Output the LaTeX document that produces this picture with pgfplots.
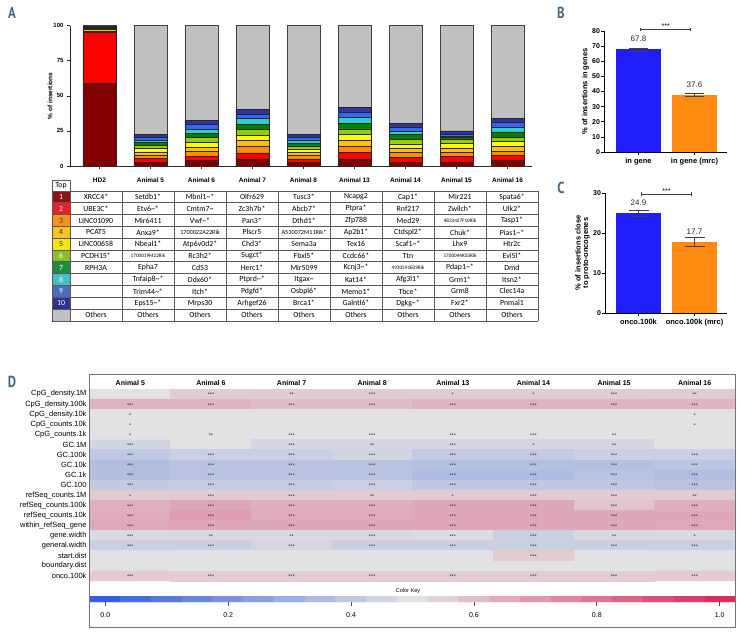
\documentclass[border=0pt]{standalone}
\usepackage{pgfplots}
\pgfplotsset{compat=1.18}
\usepackage{pgfplotstable}
\usepackage{fontspec}
\setmainfont{Liberation Sans}
\newfontfamily\tabfont{Carlito}
\newfontfamily\letterfont{PT Sans}
\newcommand\tld{\textasciitilde}
\newcommand\fs[1]{\fontsize{#1}{#1}\selectfont}
\newcommand\rik[1]{{\fs{5.2}#1}}
\newcommand\rikb[1]{{\fs{6.2}#1}}
\definecolor{c1}{HTML}{800000}
\definecolor{c2}{HTML}{FF0000}
\definecolor{c3}{HTML}{FF8C00}
\definecolor{c4}{HTML}{FFC000}
\definecolor{c5}{HTML}{FFFF00}
\definecolor{c6}{HTML}{99CC00}
\definecolor{c7}{HTML}{008000}
\definecolor{c8}{HTML}{33CCCC}
\definecolor{c9}{HTML}{3366FF}
\definecolor{c10}{HTML}{333399}
\definecolor{oth}{HTML}{C0C0C0}
\definecolor{t1}{HTML}{8C1419}
\definecolor{t2}{HTML}{E62328}
\definecolor{t3}{HTML}{F5911E}
\definecolor{t4}{HTML}{FAC31E}
\definecolor{t5}{HTML}{F0E614}
\definecolor{t6}{HTML}{8CBE28}
\definecolor{t7}{HTML}{1E8C3C}
\definecolor{t8}{HTML}{46BEC8}
\definecolor{t9}{HTML}{466EBE}
\definecolor{t10}{HTML}{2D328C}
\definecolor{letter}{HTML}{48687C}
\definecolor{pblue}{HTML}{1E1EFA}
\definecolor{porange}{HTML}{FF8A10}
\pgfplotsset{colormap={heat}{rgb255=(55,95,220) rgb255=(226,226,226) rgb255=(215,45,95)}}

\pgfplotstableread{
x c1 c2 c3 c4 c5 c6 c7 c8 c9 c10 oth
0 59 36 1.2 1.0 0.8 0.7 0.6 0 0 0 0.7
1 2.8 2.5 2.4 2.3 2.3 2.2 2.1 2.0 2.0 1.9 77.5
2 3.8 3.1 3.6 3.0 3.2 3.5 2.9 3.1 3.3 3.1 67.4
3 5.0 4.3 5.0 4.0 3.7 4.0 3.8 4.0 3.2 3.2 59.8
4 2.7 2.4 2.4 2.4 2.2 2.2 2.2 2.1 2.0 1.8 77.6
5 5.0 4.5 4.5 4.6 3.8 4.0 4.1 4.5 3.5 3.4 58.1
6 2.9 3.5 3.1 3.3 2.9 3.1 3.6 2.6 2.6 2.6 69.8
7 2.9 3.8 3.1 3.2 3.2 2.8 1.5 1.0 1.0 2.5 75.0
8 3.8 3.6 3.1 3.5 3.6 2.6 4.1 3.3 3.4 2.8 66.2
}\dataA

\begin{document}
\begin{tikzpicture}[x=1pt,y=1pt]
\path[use as bounding box] (0,0) rectangle (744,-636);

% ---------------- Panel letters
\foreach \L/\px/\py in {A/12/-13, B/561/-13, C/561/-188, D/12/-382}
  \node[font=\letterfont\bfseries\fs{16}, text=letter, xscale=0.8] at (\px,\py) {\L};

% ---------------- Panel A
\begin{axis}[
  at={(70pt,-166pt)}, anchor=south west,
  scale only axis, width=462pt, height=140.3pt,
  ybar stacked, bar width=33pt,
  xmin=-0.578, xmax=8.48, ymin=0, ymax=100,
  axis x line*=bottom, axis y line*=left,
  axis line style={black!85, line width=0.8pt},
  ytick={0,25,50,75,100},
  xtick={0,...,8},
  xticklabels={HD2,Animal 5,Animal 6,Animal 7,Animal 8,Animal 13,Animal 14,Animal 15,Animal 16},
  tick align=outside, major tick length=3pt,
  tick style={black!85, line width=0.6pt},
  yticklabel style={font=\bfseries\fs{6}},
  xticklabel style={font=\bfseries\fs{6.5}, yshift=-5pt},
  /pgf/number format/assume math mode=true,
  ylabel={\% of insertions},
  ylabel style={font=\bfseries\fs{6.5}, at={(axis description cs:-0.043,0.5)}, anchor=center},
  clip=false,
]
\addplot[fill=c1, draw=black!85, line width=0.5pt] table[x=x,y=c1]{\dataA};
\addplot[fill=c2, draw=black!85, line width=0.5pt] table[x=x,y=c2]{\dataA};
\addplot[fill=c3, draw=black!85, line width=0.5pt] table[x=x,y=c3]{\dataA};
\addplot[fill=c4, draw=black!85, line width=0.5pt] table[x=x,y=c4]{\dataA};
\addplot[fill=c5, draw=black!85, line width=0.5pt] table[x=x,y=c5]{\dataA};
\addplot[fill=c6, draw=black!85, line width=0.5pt] table[x=x,y=c6]{\dataA};
\addplot[fill=c7, draw=black!85, line width=0.5pt] table[x=x,y=c7]{\dataA};
\addplot[fill=c8, draw=black!85, line width=0.5pt] table[x=x,y=c8]{\dataA};
\addplot[fill=c9, draw=black!85, line width=0.5pt] table[x=x,y=c9]{\dataA};
\addplot[fill=c10, draw=black!85, line width=0.5pt] table[x=x,y=c10]{\dataA};
\addplot[fill=oth, draw=black!75, line width=0.7pt] table[x=x,y=oth]{\dataA};
\end{axis}

% ---------------- Table of panel A
\begin{scope}[every node/.style={font=\tabfont\fs{7.8}, inner sep=0pt}]
\foreach \c [count=\i] in {t1,t2,t3,t4,t5,t6,t7,t8,t9,t10,oth}
  \fill[\c] (52,{-191-11.8*(\i-1)}) rectangle (70,{-191-11.8*\i});
\foreach \i/\tc in {1/white,2/white,3/black!80,4/black!80,5/black!80,6/white,7/white,8/white,9/white,10/white}
  \node[text=\tc] at (61,{-191-11.8*(\i-0.5)}) {\i};
\draw[black!65, line width=0.6pt] (52,-191) -- (52,-180) -- (70,-180) -- (70,-191);
\node at (61,-185.5) {Top};
\foreach \k in {0,...,11}
  \draw[black!65, line width=0.6pt] (52,{-191-11.8*\k}) -- (538,{-191-11.8*\k});
\foreach \xx in {52,70,122,174,226,278,330,382,434,486,538}
  \draw[black!65, line width=0.6pt] (\xx,-191) -- (\xx,-320.8);
\foreach \t [count=\j from 0] in {XRCC4*,Setdb1*,Mbnl1\tld*,Olfr629,Tusc3*,Ncapg2,Cap1*,Mir221,Spata6*}
  \node at ({96+52*\j},-196.9) {\t};
\foreach \t [count=\j from 0] in {UBE3C*,Etv6\tld*,Cmtm7\tld,Zc3h7b*,Abcb7*,Ptpra*,Rnf217,Zwilch*,Ulk2*}
  \node at ({96+52*\j},-208.7) {\t};
\foreach \t [count=\j from 0] in {LINC01090,Mir6411,Vwf\tld*,Pan3*,Dthd1*,Zfp788,Med29,\rik{4833427F10Rik},Tasp1*}
  \node at ({96+52*\j},-220.5) {\t};
\foreach \t [count=\j from 0] in {PCAT5,Anxa9*,\rikb{1700022A22Rik},Plscr5,\rikb{A530072M11Rik*},Ap2b1*,Ctdspl2*,Chuk*,Pias1\tld*}
  \node at ({96+52*\j},-232.3) {\t};
\foreach \t [count=\j from 0] in {LINC00658,Nbeal1*,Atp6v0d2*,Chd3*,Sema3a,Tex16,Scaf1\tld*,Lhx9,Htr2c}
  \node at ({96+52*\j},-244.1) {\t};
\foreach \t [count=\j from 0] in {PCDH15*,\rik{1700019M22Rik},Rc3h2*,Sugct*,Fbxl5*,Ccdc66*,Ttn,\rik{1700044K03Rik},Evi5l*}
  \node at ({96+52*\j},-255.9) {\t};
\foreach \t [count=\j from 0] in {RPH3A,Epha7,Cd53,Herc1*,Mir5099,Kcnj3\tld*,\rik{4930591E09Rik},Pdap1\tld*,Dmd}
  \node at ({96+52*\j},-267.7) {\t};
\foreach \t [count=\j from 1] in {Tnfaip8\tld*,Ddx60*,Ptprd\tld*,Itgax\tld,Kat14*,Afg3l1*,Grm1*,Itsn2*}
  \node at ({96+52*\j},-279.5) {\t};
\foreach \t [count=\j from 1] in {Trim44\tld*,Itch*,Pdgfd*,Osbpl6*,Memo1*,Tbce*,Grm8,Clec14a}
  \node at ({96+52*\j},-291.3) {\t};
\foreach \t [count=\j from 1] in {Eps15\tld*,Mrps30,Arhgef26,Brca1*,Galntl6*,Dgkg\tld*,Fxr2*,Pnmal1}
  \node at ({96+52*\j},-303.1) {\t};
\foreach \j in {0,...,8}
  \node at ({96+52*\j},-314.9) {Others};
\end{scope}

% ---------------- Panel B
\begin{axis}[
  at={(604pt,-152pt)}, anchor=south west, scale only axis, width=123pt, height=121pt,
  ybar, bar width=45pt, bar shift=0pt,
  xmin=-0.616, xmax=1.58, ymin=0, ymax=80, ytick={0,10,...,80},
  xtick={0,1}, xticklabels={in gene,in gene (mrc)},
  axis x line*=bottom, axis y line*=left, axis line style={black, line width=0.8pt},
  tick align=outside, major tick length=3pt, tick style={black, line width=0.7pt},
  yticklabel style={font=\bfseries\fs{7}, xshift=2.5pt},
  xticklabel style={font=\bfseries\fs{7.5}},
  /pgf/number format/assume math mode=true,
  ylabel={\% of insertions in genes},
  ylabel style={font=\bfseries\fs{7.5}, at={(axis description cs:-0.15,0.5)}, anchor=center},
  nodes near coords, nodes near coords style={font=\fs{8}, yshift=4pt, text=black!85},
  clip=false,
  error bars/y dir=both, error bars/y explicit,
  error bars/error bar style={black!75, line width=0.7pt},
  error bars/error mark options={rotate=90, mark size=9.5pt, line width=0.7pt, black!75},
]
\addplot[fill=pblue, draw=none] coordinates {(0,67.8) +- (0,1.0)};
\addplot[fill=porange, draw=none] coordinates {(1,37.6) +- (0,1.0)};
\draw[black!75, line width=0.7pt] (axis cs:0.04,80.9) -- (axis cs:0.93,80.9);
\draw[black!75, line width=0.7pt] ([yshift=-1.7pt]axis cs:0.04,80.9) -- ([yshift=1.7pt]axis cs:0.04,80.9);
\draw[black!75, line width=0.7pt] ([yshift=-1.7pt]axis cs:0.93,80.9) -- ([yshift=1.7pt]axis cs:0.93,80.9);
\node[font=\fs{7}, anchor=base, inner sep=0pt] at ([yshift=1pt]axis cs:0.485,80.9) {***};
\end{axis}

% ---------------- Panel C
\begin{axis}[
  at={(605pt,-313pt)}, anchor=south west, scale only axis, width=122pt, height=120pt,
  ybar, bar width=45pt, bar shift=0pt,
  xmin=-0.598, xmax=1.58, ymin=0, ymax=30, ytick={0,10,20,30},
  xtick={0,1}, xticklabels={onco.100k,onco.100k (mrc)},
  axis x line*=bottom, axis y line*=left, axis line style={black, line width=0.8pt},
  tick align=outside, major tick length=3pt, tick style={black, line width=0.7pt},
  yticklabel style={font=\bfseries\fs{7}, xshift=2.5pt},
  xticklabel style={font=\bfseries\fs{7.5}},
  /pgf/number format/assume math mode=true,
  ylabel={\% of insertions close\\to proto-oncogenes},
  ylabel style={font=\bfseries\fs{7.5}, align=center, at={(axis description cs:-0.185,0.5)}, anchor=center},
  nodes near coords, nodes near coords style={font=\fs{8}, yshift=4pt, text=black!85},
  clip=false,
  error bars/y dir=both, error bars/y explicit,
  error bars/error bar style={black!75, line width=0.7pt},
  error bars/error mark options={rotate=90, mark size=10pt, line width=0.7pt, black!75},
]
\addplot[fill=pblue, draw=none] coordinates {(0,24.9) +- (0,0.8)};
\addplot[fill=porange, draw=none] coordinates {(1,17.7) +- (0,1.15)};
\draw[black!75, line width=0.7pt] (axis cs:0.057,29.75) -- (axis cs:0.95,29.75);
\draw[black!75, line width=0.7pt] ([yshift=-1.7pt]axis cs:0.057,29.75) -- ([yshift=1.7pt]axis cs:0.057,29.75);
\draw[black!75, line width=0.7pt] ([yshift=-1.7pt]axis cs:0.95,29.75) -- ([yshift=1.7pt]axis cs:0.95,29.75);
\node[font=\fs{7}, anchor=base, inner sep=0pt] at ([yshift=1pt]axis cs:0.5,29.75) {***};
\end{axis}

% ---------------- Panel D heatmap
\begin{axis}[
  at={(90pt,-581pt)}, anchor=south west, scale only axis, width=645pt, height=192pt,
  xmin=-0.5, xmax=7.5, ymin=0.5, ymax=19.5, y dir=reverse,
  axis line style={draw=none}, major tick length=0pt,
  xtick={0,...,7}, xticklabel pos=upper,
  xticklabels={Animal 5,Animal 6,Animal 7,Animal 8,Animal 13,Animal 14,Animal 15,Animal 16},
  xticklabel style={font=\bfseries\fs{7}},
  ytick={1,...,19},
  yticklabels={CpG\_density.1M,CpG\_density.100k,CpG\_density.10k,CpG\_counts.10k,CpG\_counts.1k,GC.1M,GC.100k,GC.10k,GC.1k,GC.100,refSeq\_counts.1M,refSeq\_counts.100k,refSeq\_counts.10k,within\_refSeq\_gene,gene.width,general.width,start.dist,boundary.dist,onco.100k},
  yticklabel style={font=\fs{7.5}},
  colormap name=heat, point meta min=0, point meta max=1,
]
\addplot[matrix plot*, mesh/cols=8, point meta=explicit] coordinates {
(0,1)[0.50] (1,1)[0.56] (2,1)[0.56] (3,1)[0.56] (4,1)[0.56] (5,1)[0.56] (6,1)[0.56] (7,1)[0.56]
(0,2)[0.63] (1,2)[0.63] (2,2)[0.60] (3,2)[0.60] (4,2)[0.63] (5,2)[0.63] (6,2)[0.63] (7,2)[0.63]
(0,3)[0.50] (1,3)[0.50] (2,3)[0.50] (3,3)[0.50] (4,3)[0.50] (5,3)[0.50] (6,3)[0.50] (7,3)[0.50]
(0,4)[0.50] (1,4)[0.50] (2,4)[0.50] (3,4)[0.50] (4,4)[0.50] (5,4)[0.50] (6,4)[0.50] (7,4)[0.50]
(0,5)[0.50] (1,5)[0.50] (2,5)[0.50] (3,5)[0.50] (4,5)[0.50] (5,5)[0.50] (6,5)[0.50] (7,5)[0.50]
(0,6)[0.45] (1,6)[0.50] (2,6)[0.46] (3,6)[0.46] (4,6)[0.46] (5,6)[0.46] (6,6)[0.46] (7,6)[0.50]
(0,7)[0.40] (1,7)[0.43] (2,7)[0.43] (3,7)[0.45] (4,7)[0.41] (5,7)[0.41] (6,7)[0.43] (7,7)[0.43]
(0,8)[0.36] (1,8)[0.38] (2,8)[0.38] (3,8)[0.38] (4,8)[0.37] (5,8)[0.37] (6,8)[0.37] (7,8)[0.39]
(0,9)[0.36] (1,9)[0.38] (2,9)[0.38] (3,9)[0.38] (4,9)[0.35] (5,9)[0.35] (6,9)[0.38] (7,9)[0.36]
(0,10)[0.41] (1,10)[0.42] (2,10)[0.42] (3,10)[0.43] (4,10)[0.40] (5,10)[0.40] (6,10)[0.40] (7,10)[0.38]
(0,11)[0.56] (1,11)[0.56] (2,11)[0.56] (3,11)[0.56] (4,11)[0.56] (5,11)[0.56] (6,11)[0.56] (7,11)[0.56]
(0,12)[0.64] (1,12)[0.67] (2,12)[0.64] (3,12)[0.64] (4,12)[0.66] (5,12)[0.66] (6,12)[0.58] (7,12)[0.64]
(0,13)[0.65] (1,13)[0.69] (2,13)[0.65] (3,13)[0.65] (4,13)[0.66] (5,13)[0.66] (6,13)[0.66] (7,13)[0.66]
(0,14)[0.66] (1,14)[0.66] (2,14)[0.66] (3,14)[0.66] (4,14)[0.66] (5,14)[0.66] (6,14)[0.66] (7,14)[0.66]
(0,15)[0.47] (1,15)[0.47] (2,15)[0.47] (3,15)[0.47] (4,15)[0.48] (5,15)[0.43] (6,15)[0.47] (7,15)[0.47]
(0,16)[0.43] (1,16)[0.43] (2,16)[0.46] (3,16)[0.43] (4,16)[0.43] (5,16)[0.43] (6,16)[0.43] (7,16)[0.43]
(0,17)[0.50] (1,17)[0.50] (2,17)[0.50] (3,17)[0.50] (4,17)[0.50] (5,17)[0.56] (6,17)[0.50] (7,17)[0.50]
(0,18)[0.50] (1,18)[0.50] (2,18)[0.50] (3,18)[0.50] (4,18)[0.50] (5,18)[0.50] (6,18)[0.50] (7,18)[0.50]
(0,19)[0.56] (1,19)[0.56] (2,19)[0.56] (3,19)[0.56] (4,19)[0.56] (5,19)[0.56] (6,19)[0.56] (7,19)[0.56]
};
\addplot[only marks, mark=none, point meta=explicit symbolic, nodes near coords,
  nodes near coords style={font=\fs{5.5}, anchor=center, inner sep=0pt, yshift=-1pt, text=black!80}] coordinates {
(1,1)[***] (2,1)[**] (3,1)[***] (4,1)[*] (5,1)[*] (6,1)[***] (7,1)[**]
(0,2)[***] (1,2)[***] (2,2)[***] (3,2)[***] (4,2)[***] (5,2)[***] (6,2)[***] (7,2)[***]
(0,3)[*] (7,3)[*]
(0,4)[*] (7,4)[*]
(0,5)[*] (1,5)[**] (2,5)[***] (3,5)[***] (4,5)[***] (5,5)[***] (6,5)[**]
(0,6)[***] (2,6)[***] (3,6)[**] (4,6)[***] (5,6)[*] (6,6)[**]
(0,7)[***] (1,7)[***] (2,7)[***] (3,7)[***] (4,7)[***] (5,7)[***] (6,7)[***] (7,7)[***]
(0,8)[***] (1,8)[***] (2,8)[***] (3,8)[***] (4,8)[***] (5,8)[***] (6,8)[***] (7,8)[***]
(0,9)[***] (1,9)[***] (2,9)[***] (3,9)[***] (4,9)[***] (5,9)[***] (6,9)[***] (7,9)[***]
(0,10)[***] (1,10)[***] (2,10)[***] (3,10)[***] (4,10)[***] (5,10)[***] (6,10)[***] (7,10)[***]
(0,11)[*] (1,11)[***] (2,11)[***] (3,11)[**] (4,11)[*] (5,11)[***] (6,11)[***] (7,11)[**]
(0,12)[***] (1,12)[***] (2,12)[***] (3,12)[***] (4,12)[***] (5,12)[***] (6,12)[***] (7,12)[***]
(0,13)[***] (1,13)[***] (2,13)[***] (3,13)[***] (4,13)[***] (5,13)[***] (6,13)[***] (7,13)[***]
(0,14)[***] (1,14)[***] (2,14)[***] (3,14)[***] (4,14)[***] (5,14)[***] (6,14)[***] (7,14)[***]
(0,15)[***] (1,15)[**] (2,15)[**] (3,15)[***] (4,15)[***] (5,15)[***] (6,15)[**] (7,15)[*]
(0,16)[***] (1,16)[***] (2,16)[***] (3,16)[***] (4,16)[***] (5,16)[***] (6,16)[***] (7,16)[***]
(5,17)[***]
(0,19)[***] (1,19)[***] (2,19)[***] (3,19)[***] (4,19)[***] (5,19)[***] (6,19)[***] (7,19)[***]
};
\end{axis}

% ---------------- Color key
\node[font=\fs{5.5}] at (408,-591) {Color Key};
\begin{axis}[
  at={(90pt,-602pt)}, anchor=south west, scale only axis, width=645pt, height=6pt,
  xmin=-0.025, xmax=1.025, ymin=-0.5, ymax=1.5,
  axis line style={draw=none}, ytick=\empty,
  xtick={0,0.2,0.4,0.6,0.8,1}, xticklabels={0.0,0.2,0.4,0.6,0.8,1.0},
  xtick pos=lower, tick align=outside, major tick length=4pt,
  tick style={black!70, line width=0.6pt},
  xticklabel style={font=\fs{7}, yshift=-3pt},
  colormap name=heat, point meta min=0, point meta max=1,
]
\addplot[matrix plot*, mesh/cols=21, point meta=x] coordinates {
(0,0) (0.05,0) (0.1,0) (0.15,0) (0.2,0) (0.25,0) (0.3,0) (0.35,0) (0.4,0) (0.45,0) (0.5,0)
(0.55,0) (0.6,0) (0.65,0) (0.7,0) (0.75,0) (0.8,0) (0.85,0) (0.9,0) (0.95,0) (1,0)
(0,1) (0.05,1) (0.1,1) (0.15,1) (0.2,1) (0.25,1) (0.3,1) (0.35,1) (0.4,1) (0.45,1) (0.5,1)
(0.55,1) (0.6,1) (0.65,1) (0.7,1) (0.75,1) (0.8,1) (0.85,1) (0.9,1) (0.95,1) (1,1)
};
\end{axis}
\draw[black!55, line width=0.8pt] (89,-374) rectangle (735,-627);
\end{tikzpicture}
\end{document}
